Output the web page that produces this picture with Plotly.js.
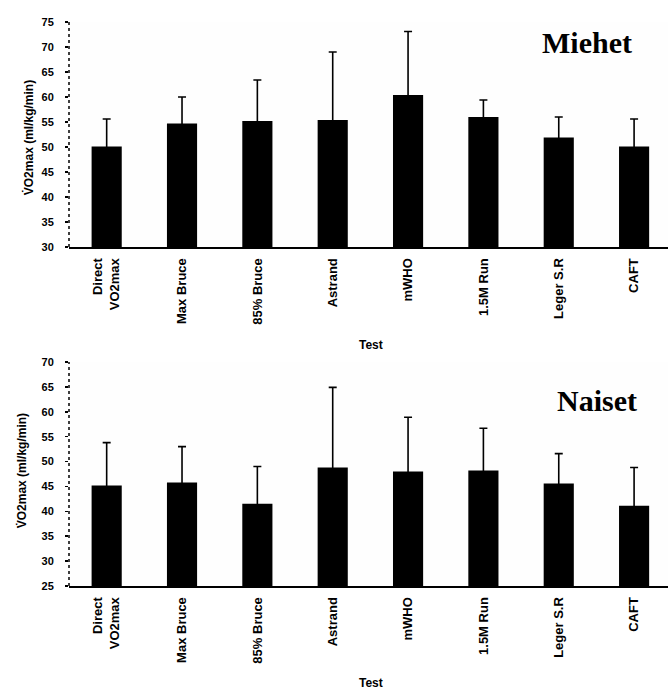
<!DOCTYPE html>
<html>
<head>
<meta charset="utf-8">
<script src="https://cdn.plot.ly/plotly-3.0.1.min.js"></script>
<style>
  html, body { margin: 0; padding: 0; background: #fff; overflow: hidden; }
  #chart { width: 668px; height: 691px; }
</style>
</head>
<body>
<div id="chart"></div>
<script>
// Test methods shown along both x axes
const tests = ["Direct<br>VO2max", "Max Bruce", "85% Bruce", "Astrand", "mWHO", "1.5M Run", "Leger S.R", "CAFT"];

// Men (Miehet): mean VO2max and standard deviation, ml/kg/min
const menMean = [50.1, 54.7, 55.2, 55.4, 60.4, 56.0, 51.9, 50.1];
const menSD   = [5.5, 5.3, 8.2, 13.6, 12.7, 3.4, 4.1, 5.5];

// Women (Naiset): mean VO2max and standard deviation, ml/kg/min
const womenMean = [45.2, 45.8, 41.5, 48.8, 48.0, 48.2, 45.6, 41.1];
const womenSD   = [8.6, 7.2, 7.5, 16.1, 10.9, 8.5, 6.0, 7.7];

const menTicks   = [30, 35, 40, 45, 50, 55, 60, 65, 70, 75];
const womenTicks = [25, 30, 35, 40, 45, 50, 55, 60, 65, 70];

const xLabelFont = {family: "Liberation Sans, Arial, sans-serif", size: 13, color: "#000", weight: "bold"};
const yLabelFont = {family: "Liberation Sans, Arial, sans-serif", size: 11, color: "#000", weight: "bold"};

function barTrace(means, sds, xa, ya) {
  return {
    type: "bar", x: tests, y: means, xaxis: xa, yaxis: ya, width: 0.4,
    marker: {color: "#000"},
    error_y: {type: "data", array: sds, visible: true, color: "#000", thickness: 1.6, width: 4},
    showlegend: false
  };
}

function xAxis(anchor) {
  return {
    anchor: anchor, type: "category", range: [-0.5, 7.45],
    showline: true, linecolor: "#000", linewidth: 2,
    showgrid: false, zeroline: false,
    ticks: "", tickangle: -90, ticklabelstandoff: 4,
    tickfont: xLabelFont
  };
}

function yAxis(domain, range, ticks) {
  return {
    domain: domain, range: range, tickvals: ticks,
    showgrid: false, zeroline: false,
    ticks: "outside", ticklen: 3, tickwidth: 1.5, tickcolor: "#000",
    ticklabelstandoff: 9,
    tickfont: yLabelFont
  };
}

const titleFont = {family: "Liberation Serif, Times New Roman, serif", size: 30, color: "#000", weight: "bold"};
const smallBold = {family: "Liberation Sans, Arial, sans-serif", size: 12, color: "#000", weight: "bold"};

const layout = {
  width: 668, height: 691,
  margin: {l: 69, r: 0, t: 0, b: 0},
  paper_bgcolor: "#fff", plot_bgcolor: "#fefefe",
  xaxis: xAxis("y"),
  yaxis: yAxis([0.6425, 0.9682], [30, 75], menTicks),
  xaxis2: xAxis("y2"),
  yaxis2: yAxis([0.152, 0.4761], [25, 70], womenTicks),
  shapes: [
    // dotted vertical value axes
    {type: "line", xref: "paper", yref: "y", x0: 0, x1: 0, y0: 30, y1: 75,
     line: {color: "#000", width: 1.5, dash: "dot"}},
    {type: "line", xref: "paper", yref: "y2", x0: 0, x1: 0, y0: 25, y1: 70,
     line: {color: "#000", width: 1.5, dash: "dot"}}
  ],
  annotations: [
    {text: "Miehet", xref: "paper", yref: "paper", x: 0.865, y: 0.938,
     xanchor: "center", yanchor: "middle", showarrow: false, font: titleFont},
    {text: "Naiset", xref: "paper", yref: "paper", x: 0.882, y: 0.421,
     xanchor: "center", yanchor: "middle", showarrow: false, font: titleFont},
    {text: "Test", xref: "paper", yref: "paper", x: 0.504, y: 0.5007,
     xanchor: "center", yanchor: "middle", showarrow: false, font: smallBold},
    {text: "Test", xref: "paper", yref: "paper", x: 0.504, y: 0.0116,
     xanchor: "center", yanchor: "middle", showarrow: false, font: smallBold},
    {text: "V\u0307O2max (ml/kg/min)", xref: "paper", yref: "paper", x: -0.0684, y: 0.80,
     xanchor: "center", yanchor: "middle", textangle: -90, showarrow: false, font: smallBold},
    {text: "V\u0307O2max (ml/kg/min)", xref: "paper", yref: "paper", x: -0.0784, y: 0.318,
     xanchor: "center", yanchor: "middle", textangle: -90, showarrow: false, font: smallBold}
  ]
};

Plotly.newPlot("chart", [barTrace(menMean, menSD, "x", "y"), barTrace(womenMean, womenSD, "x2", "y2")],
  layout, {displayModeBar: false, staticPlot: true});
</script>
</body>
</html>
